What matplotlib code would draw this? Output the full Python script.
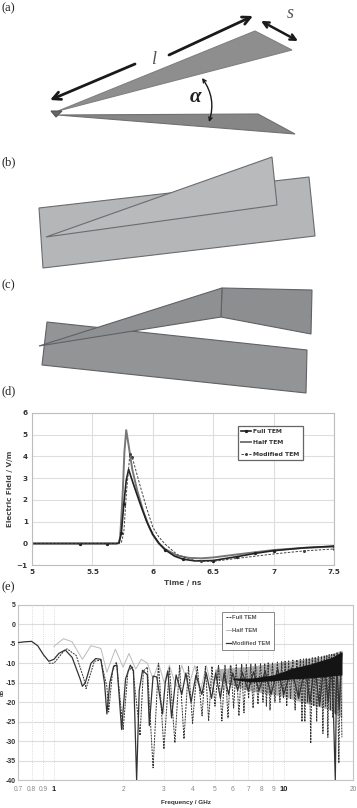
import matplotlib
matplotlib.use('Agg')
import matplotlib.pyplot as plt
from matplotlib.patches import Polygon, FancyArrowPatch

W, H = 357, 808
SANS = 'Liberation Sans'

# panel (d) time domain
d_time_full = [5, 5.4, 5.62, 5.7, 5.72, 5.74, 5.76, 5.78, 5.8, 5.82, 5.85, 5.9, 5.95, 6, 6.05, 6.1, 6.18, 6.25, 6.35, 6.5, 6.7, 6.85, 7, 7.25, 7.5]
d_full = [0, 0, 0, 0, 0.02, 0.5, 1.8, 2.9, 3.4, 3.05, 2.55, 1.75, 1.0, 0.42, 0.02, -0.28, -0.58, -0.72, -0.8, -0.78, -0.6, -0.45, -0.33, -0.2, -0.12]
d_time_half = [5, 5.5, 5.7, 5.72, 5.73, 5.75, 5.765, 5.78, 5.8, 5.83, 5.87, 5.92, 5.97, 6, 6.05, 6.1, 6.2, 6.3, 6.4, 6.5, 6.7, 7, 7.25, 7.5]
d_half = [0, 0, 0, 0.03, 0.3, 2.2, 4.2, 5.2, 4.5, 3.4, 2.45, 1.5, 0.75, 0.4, 0, -0.25, -0.55, -0.66, -0.68, -0.64, -0.5, -0.3, -0.2, -0.14]
d_time_mod = [5, 5.5, 5.72, 5.74, 5.76, 5.78, 5.81, 5.83, 5.86, 5.9, 5.95, 6, 6.05, 6.1, 6.2, 6.3, 6.4, 6.5, 6.7, 7, 7.25, 7.5]
d_mod = [0, 0, 0, 0.05, 0.5, 2.2, 4.1, 3.95, 3.35, 2.55, 1.6, 0.75, 0.3, -0.02, -0.5, -0.72, -0.82, -0.82, -0.68, -0.48, -0.34, -0.25]
d_xticks = [5, 5.5, 6, 6.5, 7, 7.5]
d_xlabels = ['5', '5.5', '6', '6.5', '7', '7.5']
d_yticks = [-1, 0, 1, 2, 3, 4, 5, 6]

# panel (e) frequency domain
e_freq_mod = [0.7, 0.75, 0.8, 0.85, 0.9, 0.95, 1, 1.05, 1.12, 1.2, 1.3, 1.33, 1.37, 1.45, 1.52, 1.6, 1.66, 1.7, 1.75, 1.82, 1.88, 1.97, 2.05, 2.15, 2.22, 2.29, 2.35, 2.43, 2.55, 2.6, 2.7, 2.8, 2.97, 3.05, 3.13, 3.25, 3.4, 3.6, 3.75, 3.95, 4.15, 4.4, 4.6, 4.85, 5.05, 5.3, 5.5, 5.75, 6, 6.3, 6.6, 7, 7.4, 7.8, 8.3, 8.8, 9.4, 10, 10.8, 11.6, 12.4, 13, 13.6, 14.3, 15, 15.6, 16.2, 16.75, 17, 17.4, 17.9]
e_db_mod = [-4.7, -4.5, -4.4, -5.5, -7.8, -9.5, -9, -7.5, -6.6, -8.5, -14, -15.9, -15, -10, -8.8, -9, -15, -23, -15, -10.7, -10.5, -27, -14, -10.5, -12, -40, -17, -11.8, -13, -26, -13.3, -13.5, -23, -15, -12, -24, -13, -18, -12.5, -20, -13, -18, -12.5, -19, -12.5, -19, -12.5, -18, -12.5, -17, -12.3, -17, -12.2, -17, -12, -18, -11.5, -18, -11.2, -19, -10.8, -20, -10.2, -21, -9.6, -20, -9, -40, -8.6, -22, -7.5]

e_freq_full = [0.95, 1, 1.1, 1.14, 1.25, 1.35, 1.38, 1.42, 1.5, 1.6, 1.7, 1.73, 1.8, 1.87, 2, 2.1, 2.2, 2.37, 2.45, 2.55, 2.7, 2.85, 3.01, 3.18, 3.36, 3.52, 3.68, 3.85, 4.01, 4.2, 4.41, 4.56, 4.71, 4.87, 5.02, 5.2, 5.38, 5.55, 5.72, 5.88, 6.05, 6.21, 6.38, 6.55, 6.71, 6.87, 7.03, 7.19, 7.35, 7.53, 7.72, 7.92, 8.12, 8.26, 8.4, 8.55, 8.71, 8.93, 9.15, 9.38, 9.62, 9.79, 9.96, 10.13, 10.3, 10.5, 10.7, 10.95, 11.2, 11.4, 11.6, 11.8, 12, 12.18, 12.35, 12.52, 12.7, 12.9, 13.1, 13.3, 13.5, 13.7, 13.9, 14.12, 14.35, 14.58, 14.8, 15, 15.2, 15.38, 15.55, 15.75, 15.95, 16.15, 16.35, 16.55, 16.75, 17.05, 17.36, 17.63, 17.9]
e_db_full = [-10, -10, -7, -6.3, -8, -14, -16.5, -14, -9.5, -9.2, -16, -22.5, -12, -9.7, -27, -12, -11, -28.5, -12, -11, -36.8, -10, -32, -11, -30.4, -10.6, -29.4, -10.8, -25.4, -10.7, -23.5, -10.8, -24.8, -10.8, -21, -10.6, -24.8, -10.5, -24, -10.5, -21.5, -10.4, -23.5, -10.3, -22.7, -10.2, -19, -10.2, -21.5, -10.1, -20.5, -10, -20, -10, -21, -9.9, -22, -9.8, -20, -9.7, -20, -9.6, -19, -9.5, -21, -9.4, -19, -9.2, -22, -9.1, -19, -9, -25, -8.9, -25, -8.8, -20, -8.7, -30.5, -8.6, -21, -8.4, -25, -8.3, -20, -8.2, -28, -8, -21, -7.9, -29, -7.8, -22, -7.6, -24, -7.5, -23, -7.2, -35.6, -7, -29]

e_freq_half = [1, 1.1, 1.2, 1.33, 1.45, 1.6, 1.7, 1.85, 2, 2.12, 2.27, 2.4, 2.55, 2.7, 2.85, 3.02, 3.18, 3.4, 3.6, 3.85, 4.1, 4.35, 4.6, 4.9, 5.2, 5.5, 5.85, 6.2, 6.6, 7, 7.5, 8, 8.6, 9.2, 10, 11, 12, 13, 14, 15, 16, 17, 17.9]
e_db_half = [-5.7, -3.7, -4.5, -9, -5.5, -6.2, -12.3, -6.4, -11, -7.5, -11.5, -9, -10, -14, -10, -15, -10.5, -16, -10.5, -16, -10.6, -17, -10.6, -17, -10.6, -17, -10.5, -16, -10.4, -16, -10.2, -16, -10, -16, -9.7, -15, -9.4, -15, -8.9, -14, -8.4, -13, -7.6]

# dark band of the fast ripple above 6 GHz and the grey haze around it
e_band_freq = [6, 7.2, 9, 11, 13, 14, 16, 17.9]
e_band_low = [-14.2, -14.8, -14.5, -14, -13.8, -13.6, -13.3, -13]
e_band_high = [-13.8, -13.8, -13, -11.2, -10.2, -9.6, -8.6, -7]
e_haze_freq = [5, 7, 9, 10, 12, 14, 16, 17.9]
e_haze_high = [-11.5, -10.8, -10, -9.6, -9, -8.4, -7.6, -6.6]
e_haze_low = [-14, -17, -18, -18.5, -20, -21, -22, -24]

e_xminor = [0.7, 0.8, 0.9, 2, 3, 4, 5, 6, 7, 8, 9, 20]
e_xminor_labels = ['0.7', '0.8', '0.9', '2', '3', '4', '5', '6', '7', '8', '9', '20']
e_yticks = [5, 0, -5, -10, -15, -20, -25, -30, -35, -40]

# antenna sketches, outlines in image pixels
a_upper = [(58, 111), (255, 31), (292, 50)]
a_lower = [(58, 115), (258, 114), (295, 134)]
a_tip = [(51, 111), (62, 111), (56, 117)]
b_rect = [(39, 208), (309, 177), (315, 236), (43, 268)]
b_wedge = [(46, 237), (272, 157), (277, 205)]
c_rect = [(47, 322), (307, 350), (306, 393), (42, 365)]
c_wedge = [(39, 346), (222, 288), (221, 317)]
c_side = [(222, 288), (312, 290), (311, 334), (221, 317)]
panel_labels = ['(a)', '(b)', '(c)', '(d)', '(e)']
panel_label_y = [8, 162, 285, 391, 587]


def px_axes(fig, left, top, right, bottom):
    return fig.add_axes([left / W, 1 - bottom / H, (right - left) / W, (bottom - top) / H])


fig = plt.figure(figsize=(W / 100, H / 100), dpi=100)

sk = fig.add_axes([0, 0, 1, 1])
sk.set_xlim(0, W)
sk.set_ylim(H, 0)
sk.axis('off')

for shape, col, edge in [(a_upper, '#8e8e8e', '#808080'), (a_lower, '#868686', '#707070'),
                         (a_tip, '#666666', '#555555'),
                         (b_rect, '#b5b6b8', '#6a6c6f'), (b_wedge, '#b9babc', '#6a6c6f'),
                         (c_rect, '#939496', '#606265'), (c_side, '#8d8e90', '#606265'),
                         (c_wedge, '#8f9092', '#606265')]:
    sk.add_patch(Polygon(shape, closed=True, facecolor=col, edgecolor=edge, lw=0.8))

arrow_style = dict(color='#1a1a1a', lw=2, mutation_scale=14, shrinkA=0, shrinkB=0)
sk.add_patch(FancyArrowPatch((135, 64), (50, 100), arrowstyle='->', **arrow_style))
sk.add_patch(FancyArrowPatch((169, 55), (253, 16), arrowstyle='->', **arrow_style))
sk.add_patch(FancyArrowPatch((261, 21), (298, 41), arrowstyle='<->',
                             color='#1a1a1a', lw=1.8, mutation_scale=10, shrinkA=0, shrinkB=0))
sk.add_patch(FancyArrowPatch((202, 78), (209, 122), arrowstyle='<->', connectionstyle='arc3,rad=-0.25',
                             color='#1a1a1a', lw=1, mutation_scale=6, shrinkA=0, shrinkB=0))
sk.text(154, 60, 'l', family='Liberation Serif', style='italic', fontsize=13, color='#555555', ha='center', va='center')
sk.text(290, 14, 's', family='Liberation Serif', style='italic', fontsize=13, color='#555555', ha='center', va='center')
sk.text(195, 97, '\u03b1', family='Liberation Serif', style='italic', weight='bold', fontsize=15, color='#222222', ha='center', va='center')

for label, y in zip(panel_labels, panel_label_y):
    sk.text(2, y, label, family='Liberation Serif', fontsize=9, color='#222222', va='center')

# panel (d)
ax = px_axes(fig, 32, 412.7, 334, 565.3)
ax.plot(d_time_half, d_half, color='#777777', lw=1.4, label='Half TEM')
ax.plot(d_time_full, d_full, color='#222222', lw=1.2, marker='o', ms=1.4,
        markevery=[1, 2, 5, 6, 15, 17, 19, 20, 21, 22, 24], label='Full TEM')
ax.plot(d_time_mod, d_mod, color='#444444', lw=0.7, ls=(0, (2.5, 1.5)), marker='o', ms=1.2,
        markevery=[6, 7, 16, 20, 21], label='Modified TEM')
ax.set_xlim(5, 7.5)
ax.set_ylim(-1, 6)
ax.set_xticks(d_xticks)
ax.set_xticklabels(d_xlabels)
ax.set_yticks(d_yticks)
ax.grid(True, color='#dedede', lw=0.8)
ax.set_axisbelow(True)
ax.tick_params(length=0, pad=3, labelsize=5.2, labelcolor='#333333')
for lab in ax.get_xticklabels() + ax.get_yticklabels():
    lab.set_fontweight('bold')
for sp in ax.spines.values():
    sp.set_color('#bdbdbd')
    sp.set_linewidth(0.8)
ax.set_xlabel('Time / ns', fontsize=5.2, fontweight='bold', color='#444444', labelpad=3)
ax.set_ylabel('Electric Field / V/m', fontsize=5.2, fontweight='bold', color='#444444', labelpad=3)
h, l = ax.get_legend_handles_labels()
leg = ax.legend([h[1], h[0], h[2]], [l[1], l[0], l[2]], loc='upper left', bbox_to_anchor=(0.682, 0.915),
                borderaxespad=0, fancybox=False, framealpha=1, edgecolor='#666666',
                handlelength=1.6, handletextpad=0.4, labelspacing=1.0, borderpad=0.5,
                prop=dict(weight='bold', size=4.4))
leg.get_frame().set_linewidth(0.9)
for t in leg.get_texts():
    t.set_color('#333333')

# panel (e)
ax2 = px_axes(fig, 18.3, 604.7, 353, 780.3)
ax2.set_xscale('log')
ax2.fill_between(e_haze_freq, e_haze_low, e_haze_high, color='#777777', alpha=0.55, lw=0, zorder=2.5)
ax2.fill_between(e_band_freq, e_band_low, e_band_high, color='#141414', lw=0, zorder=4)
ax2.plot(e_freq_full, e_db_full, color='#333333', lw=0.7, ls=(0, (2, 1)), zorder=3, label='Full TEM')
ax2.plot(e_freq_half, e_db_half, color='#bbbbbb', lw=0.7, zorder=2, label='Half TEM')
ax2.plot(e_freq_mod, e_db_mod, color='#333333', lw=0.9, zorder=3, label='Modified TEM')
ax2.set_xlim(0.7, 20)
ax2.set_ylim(-40, 5)
ax2.set_xticks([1, 10])
ax2.set_xticklabels(['1', '10'], family=SANS, fontweight='bold', fontsize=5.5, color='#222222')
ax2.set_xticks(e_xminor, minor=True)
ax2.set_xticklabels(e_xminor_labels, minor=True, family=SANS, fontsize=4.8, color='#888888')
ax2.set_yticks(e_yticks)
ax2.set_yticklabels([str(v) for v in e_yticks], family=SANS, fontweight='bold', fontsize=5, color='#333333')
ax2.grid(True, axis='y', color='#dddddd', lw=0.8)
ax2.grid(True, axis='x', which='both', color='#d0d0d0', lw=0.6, ls=':')
ax2.set_axisbelow(True)
ax2.tick_params(axis='both', which='both', length=0, pad=4)
ax2.tick_params(axis='y', pad=2)
for sp in ax2.spines.values():
    sp.set_color('#c4c4c4')
    sp.set_linewidth(0.8)
ax2.set_xlabel('Frequency / GHz', family=SANS, fontsize=4.6, fontweight='bold', color='#333333', labelpad=5)
ax2.set_ylabel('dB', family=SANS, fontsize=3.8, fontweight='bold', color='#333333')
ax2.yaxis.set_label_coords(-0.04, 0.5)
leg2 = ax2.legend(loc='upper left', bbox_to_anchor=(0.61, 0.96), borderaxespad=0, fancybox=False,
                  framealpha=1, edgecolor='#888888', handlelength=0.8, handletextpad=0.3,
                  labelspacing=1.35, borderpad=0.6, prop=dict(family=SANS, size=4.2, weight='bold'))
leg2.set_zorder(10)
leg2.get_frame().set_linewidth(0.7)
for t in leg2.get_texts():
    t.set_color('#555555')

fig.savefig('out.png', dpi=100)
